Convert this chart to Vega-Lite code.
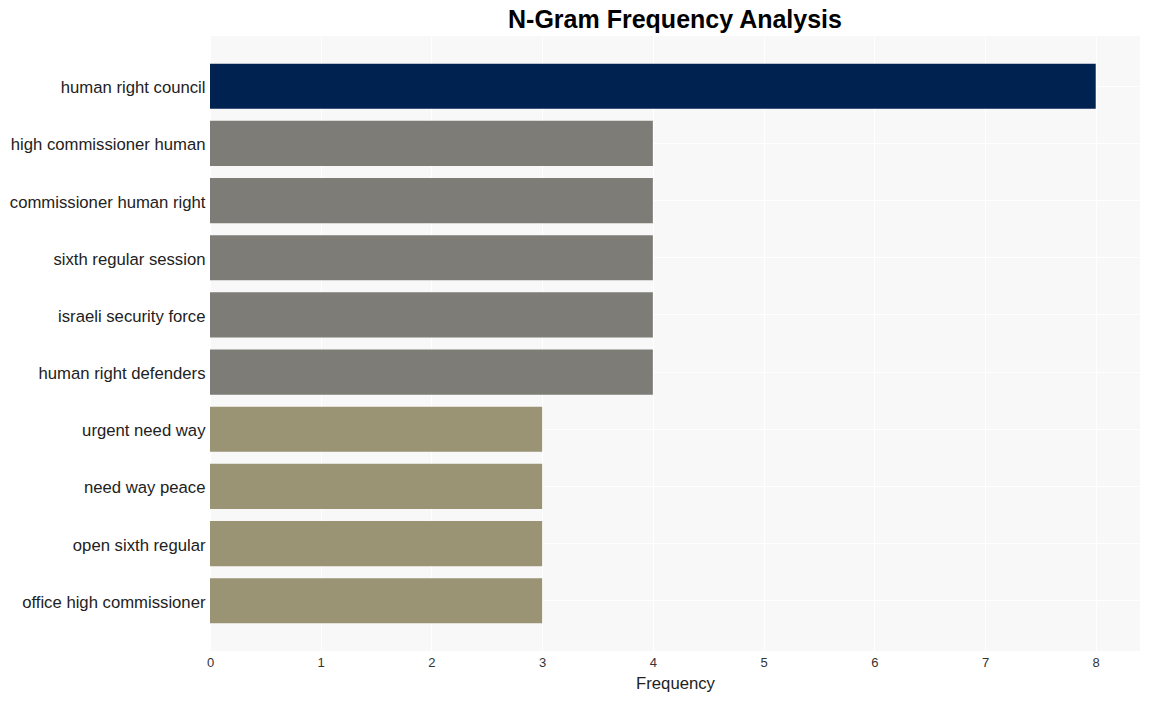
{
  "$schema": "https://vega.github.io/schema/vega-lite/v6.json",
  "width": 930,
  "height": 615,
  "autosize": {"type": "none"},
  "padding": {"left": 210, "top": 36, "right": 10, "bottom": 50},
  "background": "white",
  "title": {
    "text": "N-Gram Frequency Analysis",
    "anchor": "middle",
    "fontSize": 25,
    "fontWeight": "bold",
    "font": "Liberation Sans",
    "color": "#000000",
    "offset": 3
  },
  "config": {
    "view": {"fill": "#f8f8f8", "stroke": null},
    "axis": {"domain": false, "ticks": false, "gridColor": "#ffffff", "gridWidth": 1.2, "labelFont": "Liberation Sans", "titleFont": "Liberation Sans"}
  },
  "data": {
    "values": [
      {"ngram": "human right council", "frequency": 8},
      {"ngram": "high commissioner human", "frequency": 4},
      {"ngram": "commissioner human right", "frequency": 4},
      {"ngram": "sixth regular session", "frequency": 4},
      {"ngram": "israeli security force", "frequency": 4},
      {"ngram": "human right defenders", "frequency": 4},
      {"ngram": "urgent need way", "frequency": 3},
      {"ngram": "need way peace", "frequency": 3},
      {"ngram": "open sixth regular", "frequency": 3},
      {"ngram": "office high commissioner", "frequency": 3}
    ]
  },
  "mark": {"type": "bar"},
  "encoding": {
    "y": {
      "field": "ngram",
      "type": "nominal",
      "sort": null,
      "scale": {"paddingInner": 0.21, "paddingOuter": 0.484},
      "axis": {"title": null, "labelFontSize": 16.7, "labelColor": "#222222", "labelPadding": 5, "labelOffset": 2, "grid": true, "labelLimit": 300}
    },
    "x": {
      "field": "frequency",
      "type": "quantitative",
      "scale": {"domain": [0, 8.4], "nice": false},
      "axis": {"values": [0, 1, 2, 3, 4, 5, 6, 7, 8], "title": "Frequency", "titleFontSize": 16.7, "titleFontWeight": "normal", "titleColor": "#222222", "labelFontSize": 13, "labelColor": "#333333", "labelPadding": 5, "labelFlush": false, "titlePadding": 6, "grid": true}
    },
    "color": {
      "field": "frequency",
      "type": "ordinal",
      "scale": {"domain": [8, 4, 3], "range": ["#002250", "#7d7c77", "#9a9374"]},
      "legend": null
    }
  }
}
